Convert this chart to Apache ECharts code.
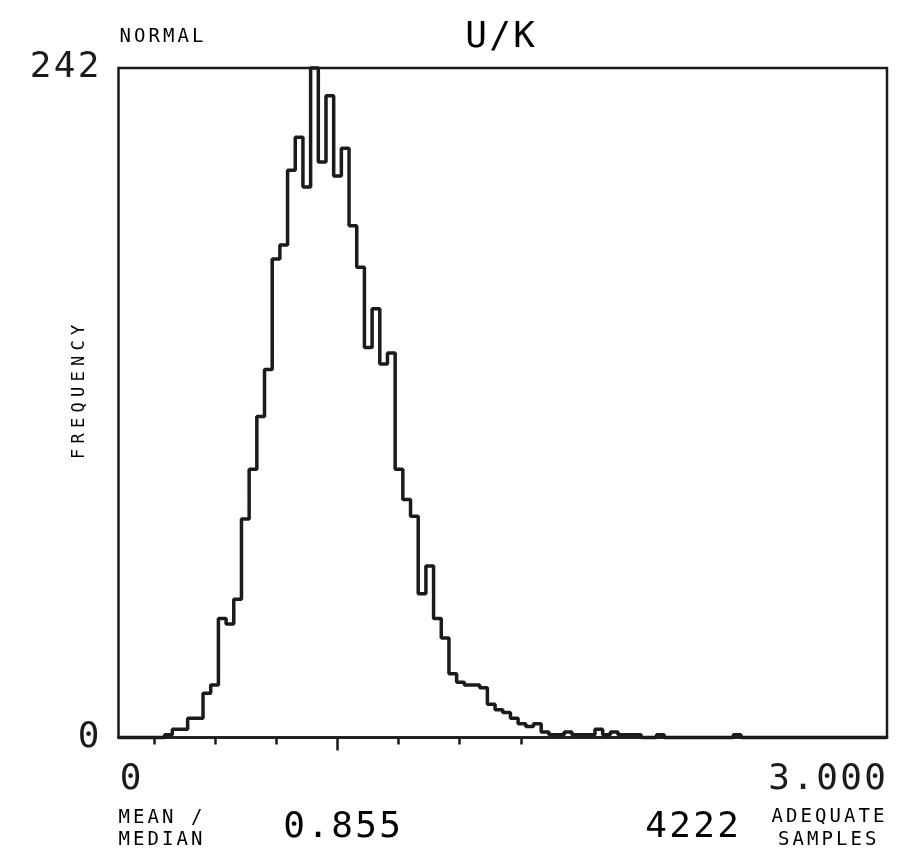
<!DOCTYPE html>
<html><head><meta charset="utf-8">
<script src="https://cdn.jsdelivr.net/npm/echarts@6/dist/echarts.min.js"></script>
<style>html,body{margin:0;padding:0;background:#fff}#c{width:897px;height:851px}</style>
</head><body><div id="c"></div>
<script>
// ---- data ----
const title = 'U/K';
const topLeftNote = 'NORMAL';
const yAxisName = 'FREQUENCY';
const xMin = 0, xMax = 3.0;
const yMax = 242;
const binStart = 0, binWidth = 0.03;          // 100 bins over 0 .. 3.000
const counts = [
  0, 0, 0, 0, 0, 0, 1, 3, 3, 7,
  7, 16, 19, 43, 41, 50, 79, 97, 116, 133,
  173, 178, 205, 217, 199, 242, 208, 232, 203, 213,
  185, 170, 141, 155, 135, 139, 97, 86, 80, 52,
  62, 43, 36, 23, 20, 19, 19, 18, 12, 10,
  9, 7, 5, 4, 5, 2, 1, 1, 2, 1,
  1, 1, 3, 1, 2, 1, 1, 1, 0, 0,
  1, 0, 0, 0, 0, 0, 0, 0, 0, 0,
  1, 0, 0, 0, 0, 0, 0, 0, 0, 0,
  0, 0, 0, 0, 0, 0, 0, 0, 0, 0
];
const sigmaTicks = [0.140, 0.378, 0.617, 1.094, 1.332, 1.571]; // short ticks
const meanValue = 0.855;                                        // long tick
const xTickLabels = [0, 3.0];
const yTickLabels = [0, 242];
const meanText = '0.855';
const samplesText = '4222';
const meanLabel = ['MEAN /', 'MEDIAN'];
const samplesLabel = ['ADEQUATE', 'SAMPLES'];

// ---- drawing ----
const FONT = 'DejaVu Sans Mono';
const INK = '#1b1b1b';
function spaced(str, key) {
  return str.split('').map(ch => '{' + key + '|' + ch + '}').join('');
}
const rich = {
  b: { fontFamily: FONT, fontSize: 36, width: 24, align: 'center', color: INK },
  s: { fontFamily: FONT, fontSize: 19, width: 14.5, align: 'center', color: INK },
  f: { fontFamily: FONT, fontSize: 17, width: 15.5, align: 'center', color: INK }
};

const points = counts.map((c, i) => [binStart + i * binWidth, c]);
points.push([binStart + counts.length * binWidth, counts[counts.length - 1]]);

const chart = echarts.init(document.getElementById('c'), null, { renderer: 'canvas' });

function txt(str, key, x, y, align, vAlign, rot) {
  return {
    type: 'text', x: x, y: y, rotation: rot || 0, silent: true,
    style: { text: spaced(str, key), rich: rich, align: align, verticalAlign: vAlign }
  };
}

chart.setOption({
  animation: false,
  backgroundColor: '#ffffff',
  grid: { left: 118.5, right: 10, top: 68, bottom: 113.5, show: true,
          borderColor: INK, borderWidth: 2.5, backgroundColor: 'transparent' },
  xAxis: [{
    type: 'value', min: xMin, max: xMax, position: 'bottom',
    splitLine: { show: false },
    axisLine: { show: true, onZero: false, lineStyle: { color: INK, width: 2.5 } },
    axisTick: { show: true, inside: false, length: 7, customValues: sigmaTicks,
                lineStyle: { color: INK, width: 2.5 } },
    axisLabel: { show: true, customValues: xTickLabels, margin: 24,
                 alignMinLabel: 'left', alignMaxLabel: 'right',
                 formatter: v => spaced(v === 0 ? '0' : v.toFixed(3), 'b'), rich: rich }
  }, {
    type: 'value', min: xMin, max: xMax, position: 'bottom', offset: 0,
    splitLine: { show: false },
    axisLine: { show: false },
    axisTick: { show: true, inside: false, length: 13, customValues: [meanValue],
                lineStyle: { color: INK, width: 2.5 } },
    axisLabel: { show: false }
  }],
  yAxis: {
    type: 'value', min: 0, max: yMax,
    splitLine: { show: false },
    axisLine: { show: false },
    axisTick: { show: false },
    axisLabel: { show: true, customValues: yTickLabels, margin: 18,
                 formatter: v => spaced(String(v), 'b'), rich: rich }
  },
  series: [{
    type: 'line', xAxisIndex: 0, yAxisIndex: 0, step: 'end',
    data: points, showSymbol: false, symbol: 'none',
    lineStyle: { color: INK, width: 3.5 }, clip: false
  }],
  graphic: [
    txt(title, 'b', 500, 38, 'center', 'middle'),
    txt(topLeftNote, 's', 118, 37, 'left', 'middle'),
    txt(yAxisName, 'f', 80, 392, 'center', 'middle', Math.PI / 2),
    txt(meanLabel[0], 's', 117, 818, 'left', 'middle'),
    txt(meanLabel[1], 's', 117, 840, 'left', 'middle'),
    txt(meanText, 'b', 342, 828, 'center', 'middle'),
    txt(samplesText, 'b', 740, 828, 'right', 'middle'),
    txt(samplesLabel[0], 's', 886, 817, 'right', 'middle'),
    txt(samplesLabel[1], 's', 878, 840, 'right', 'middle')
  ]
});
</script></body></html>
